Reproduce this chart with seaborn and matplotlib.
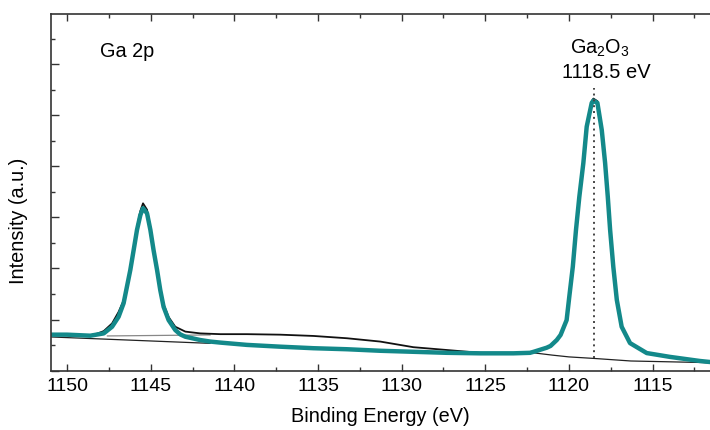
import numpy as np
import pandas as pd
import matplotlib
matplotlib.use("Agg")
import matplotlib.pyplot as plt
import seaborn as sns
from matplotlib.ticker import MultipleLocator

# ---- data (binding energy eV, intensity a.u.) ----
fit_be = [1150.94, 1150.0, 1148.61, 1147.81, 1147.31, 1146.92, 1146.62, 1146.42,
          1146.22, 1146.02, 1145.82, 1145.62, 1145.46, 1145.22, 1145.02, 1144.83,
          1144.62, 1144.43, 1144.23, 1143.93, 1143.53, 1143.23, 1142.93, 1142.04,
          1141.44, 1140.84, 1139.25, 1137.26, 1135.27, 1133.27, 1131.28, 1129.30,
          1127.30, 1125.31, 1123.32, 1122.33, 1122.11, 1121.33, 1121.10, 1120.73,
          1120.50, 1120.14, 1119.98, 1119.77, 1119.58, 1119.38, 1119.14, 1118.94,
          1118.64, 1118.54, 1118.30, 1118.04, 1117.84, 1117.68, 1117.54, 1117.35,
          1117.14, 1116.85, 1116.35, 1115.35, 1113.96, 1112.17, 1111.57]
fit_int = [1.41, 1.41, 1.37, 1.46, 1.72, 2.11, 2.64, 3.29,
           3.94, 4.72, 5.51, 6.09, 6.36, 6.16, 5.51, 4.72,
           3.94, 3.16, 2.50, 1.98, 1.59, 1.42, 1.33, 1.20,
           1.14, 1.10, 1.01, 0.94, 0.88, 0.84, 0.78, 0.74,
           0.70, 0.68, 0.68, 0.70, 0.74, 0.90, 0.97, 1.20,
           1.40, 1.98, 2.90, 4.07, 5.51, 6.81, 8.13, 9.55,
           10.48, 10.57, 10.48, 9.42, 8.13, 6.81, 5.51, 4.07,
           2.77, 1.72, 1.08, 0.69, 0.54, 0.38, 0.34]

data_be = [1150.94, 1150.0, 1148.61, 1148.2, 1147.81, 1147.31, 1146.92, 1146.62,
           1146.42, 1146.22, 1146.02, 1145.82, 1145.62, 1145.46, 1145.22, 1145.02,
           1144.83, 1144.62, 1144.43, 1144.23, 1143.93, 1143.53, 1142.93, 1142.04,
           1140.84, 1139.25, 1137.26, 1135.27, 1133.27, 1131.28, 1130.29, 1129.30,
           1127.30, 1125.31, 1123.32, 1122.33, 1121.33, 1121.10, 1120.73, 1120.50,
           1120.14, 1119.98, 1119.77, 1119.58, 1119.38, 1119.14, 1118.94, 1118.64,
           1118.54, 1118.30, 1118.04, 1117.84, 1117.68, 1117.54, 1117.35, 1117.14,
           1116.85, 1116.35, 1115.35, 1113.96, 1112.17, 1111.57]
data_int = [1.39, 1.39, 1.39, 1.45, 1.55, 1.85, 2.30, 2.75,
            3.35, 4.00, 4.80, 5.60, 6.25, 6.55, 6.30, 5.60,
            4.80, 4.00, 3.25, 2.60, 2.10, 1.72, 1.53, 1.46,
            1.43, 1.43, 1.41, 1.36, 1.27, 1.14, 1.03, 0.92,
            0.81, 0.70, 0.65, 0.68, 0.90, 0.97, 1.20, 1.40,
            1.98, 2.90, 4.07, 5.51, 6.81, 8.13, 9.55, 10.55,
            10.65, 10.55, 9.42, 8.13, 6.81, 5.51, 4.07, 2.77,
            1.72, 1.08, 0.69, 0.54, 0.38, 0.34]

bg1_be = [1150.94, 1141.44]
bg1_int = [1.32, 1.07]
bg1b_be = [1147.6, 1141.44]
bg1b_int = [1.36, 1.40]

bg2_be = [1122.5, 1121.0, 1120.0, 1118.5, 1116.3, 1112.0, 1111.57]
bg2_int = [0.73, 0.61, 0.54, 0.48, 0.38, 0.32, 0.30]

peak_pos = 1118.5
peak_line = [0.48, 11.06]

ylim_top = 13.96
xlim = (1150.96, 1111.57)

# ---- figure ----
sns.set_style("ticks")
plt.rcParams['font.family'] = ['Liberation Sans', 'DejaVu Sans']
plt.rcParams['mathtext.fontset'] = 'custom'
plt.rcParams['mathtext.rm'] = 'Liberation Sans'
plt.rcParams['mathtext.it'] = 'Liberation Sans'
plt.rcParams['text.color'] = 'black'
plt.rcParams['axes.labelcolor'] = 'black'
plt.rcParams['xtick.labelcolor'] = 'black'

fig = plt.figure(figsize=(7.1, 4.3), dpi=100)
ax = fig.add_axes([51 / 710, (430 - 370.7) / 430, (710 - 51) / 710, (370.7 - 14) / 430])

teal = "#13898a"

sns.lineplot(x=bg1_be, y=bg1_int, ax=ax, color="#222222", lw=0.9, sort=False, estimator=None)
sns.lineplot(x=bg1b_be, y=bg1b_int, ax=ax, color="#888888", lw=0.9, sort=False, estimator=None)
sns.lineplot(x=bg2_be, y=bg2_int, ax=ax, color="#222222", lw=0.9, sort=False, estimator=None)
sns.lineplot(x=data_be, y=data_int, ax=ax, color="#111111", lw=1.3, sort=False, estimator=None)
sns.lineplot(x=fit_be, y=fit_int, ax=ax, color=teal, lw=3.2, sort=False, estimator=None)
sns.lineplot(x=[peak_pos, peak_pos], y=peak_line, ax=ax, color="#444444", lw=1.4,
             linestyle=(0, (1, 2.0)), sort=False, estimator=None)

ax.set_xlim(*xlim)
ax.set_ylim(0, ylim_top)

ax.xaxis.set_major_locator(MultipleLocator(5))
ax.xaxis.set_minor_locator(MultipleLocator(2.5))
ax.yaxis.set_major_locator(MultipleLocator(2))
ax.yaxis.set_minor_locator(MultipleLocator(1))
ax.set_yticklabels([])
ax.tick_params(axis='x', which='both', direction='in', top=True, bottom=True,
               labelsize=14, color="#333333", labelcolor='black', pad=5)
ax.tick_params(axis='x', which='major', length=5, width=1)
ax.tick_params(axis='x', which='minor', length=3, width=1)
ax.tick_params(axis='y', which='both', direction='in', left=True, right=False, color="#333333")
ax.tick_params(axis='y', which='major', length=6, width=1)
ax.tick_params(axis='y', which='minor', length=3, width=1)

for side in ['left', 'bottom', 'top']:
    ax.spines[side].set_visible(True)
    ax.spines[side].set_linewidth(1.2)
    ax.spines[side].set_color("#333333")
ax.spines['right'].set_visible(False)

ax.set_xlabel("Binding Energy (eV)", fontsize=14.3, labelpad=9, color='black')
ax.set_ylabel("Intensity (a.u.)", fontsize=14.3, color='black')
ax.yaxis.set_label_coords(-0.035, 0.42)

ax.text(1148.05, 12.5, "Ga 2p", fontsize=14.3, ha='left', va='center', color='black')
ax.text(1118.15, 12.63, "Ga$_2$O$_3$", fontsize=14.3, ha='center', va='center', color='black')
ax.text(1117.75, 11.68, "1118.5 eV", fontsize=14.5, ha='center', va='center', color='black')

fig.savefig("out.png", dpi=100)
